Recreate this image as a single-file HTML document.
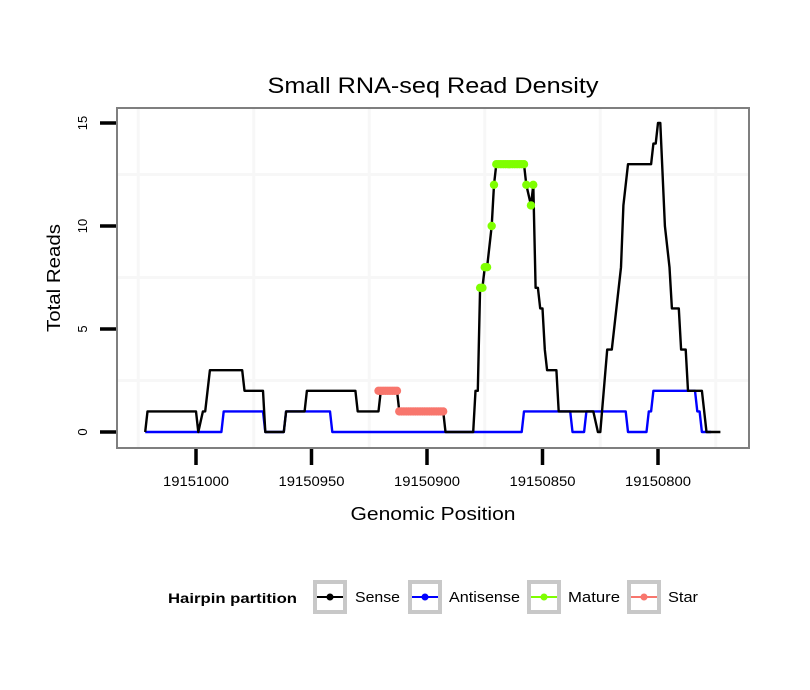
<!DOCTYPE html>
<html><head><meta charset="utf-8"><style>
body{margin:0;background:#fff;}
svg{display:block;font-family:"Liberation Sans","DejaVu Sans",sans-serif;}
</style></head><body>
<svg id="chart" width="810" height="690">
<text x="433" y="93" font-size="22" text-anchor="middle" textLength="331" lengthAdjust="spacingAndGlyphs">Small RNA-seq Read Density</text>
<rect x="117" y="108" width="632" height="340" fill="#fff"/>
<g id="grid"></g>
<g id="series"></g>
<rect x="117" y="108" width="632" height="340" fill="none" stroke="#7f7f7f" stroke-width="2"/>
<g id="axes"></g>
<text x="433" y="520" font-size="18" text-anchor="middle" textLength="165" lengthAdjust="spacingAndGlyphs">Genomic Position</text>
<text x="0" y="0" font-size="18" text-anchor="middle" textLength="108" lengthAdjust="spacingAndGlyphs" transform="translate(60,278) rotate(-90)">Total Reads</text>
<g id="legend">
<text x="168" y="603" font-size="14" font-weight="bold" textLength="129" lengthAdjust="spacingAndGlyphs">Hairpin partition</text>
</g>
</svg>
<script>
const xTicks=[19151000,19150950,19150900,19150850,19150800];
const xTickLabels=["19151000","19150950","19150900","19150850","19150800"];
const yTicks=[0,5,10,15];
const yTickLabels=["0","5","10","15"];
const sensePos=[19151022,19151021,19151000,19150999,19150997,19150996,19150994,19150980,19150979,19150971,19150970,19150962,19150961,19150953,19150952,19150931,19150930,19150921,19150920,19150913,19150912,19150893,19150892,19150880,19150879,19150878,19150877,19150876,19150875,19150874,19150872,19150871,19150870,19150858,19150857,19150855,19150854,19150853,19150852,19150851,19150850,19150849,19150848,19150844,19150843,19150828,19150826,19150825,19150822,19150820,19150816,19150815,19150813,19150803,19150802,19150801,19150800,19150799,19150797,19150795,19150794,19150791,19150790,19150788,19150787,19150781,19150779,19150773];
const senseVal=[0,1,1,0,1,1,3,3,2,2,0,0,1,1,2,2,1,1,2,2,1,1,0,0,2,2,7,7,8,8,10,12,13,13,12,11,12,7,7,6,6,4,3,3,1,1,0,0,4,4,8,11,13,13,14,14,15,15,10,8,6,6,4,4,2,2,0,0];
const antiPos=[19151022,19150989,19150988,19150971,19150970,19150962,19150961,19150942,19150941,19150859,19150858,19150838,19150837,19150832,19150831,19150814,19150813,19150805,19150804,19150803,19150802,19150784,19150783,19150782,19150781,19150777];
const antiVal=[0,0,1,1,0,0,1,1,0,0,1,1,0,0,1,1,0,0,1,1,2,2,1,1,0,0];
const maturePos=[19150877,19150876,19150875,19150874,19150872,19150871,19150870,19150869,19150868,19150867,19150866,19150865,19150864,19150863,19150862,19150861,19150860,19150859,19150858,19150857,19150855,19150854];
const matureVal=[7,7,8,8,10,12,13,13,13,13,13,13,13,13,13,13,13,13,13,12,11,12];
const starPos=[19150921,19150920,19150919,19150918,19150917,19150916,19150915,19150914,19150913,19150912,19150911,19150910,19150909,19150908,19150907,19150906,19150905,19150904,19150903,19150902,19150901,19150900,19150899,19150898,19150897,19150896,19150895,19150894,19150893];
const starVal=[2,2,2,2,2,2,2,2,2,1,1,1,1,1,1,1,1,1,1,1,1,1,1,1,1,1,1,1,1];

const NS="http://www.w3.org/2000/svg";
function xs(p){return 196+(19151000-p)*2.31;}
function ys(v){return 432-v*20.6;}
function mk(tag,attrs,parent){const e=document.createElementNS(NS,tag);for(const k in attrs)e.setAttribute(k,attrs[k]);parent.appendChild(e);return e;}
const grid=document.getElementById('grid'),series=document.getElementById('series'),axes=document.getElementById('axes'),legend=document.getElementById('legend');
for(let i=0;i<=xTicks.length;i++){
  const p=xTicks[0]+25-50*i;
  const l=mk('line',{x1:xs(p),x2:xs(p),y1:109,y2:447,stroke:'#f7f7f7','stroke-width':3},grid);
  
  
}
for(let i=0;i<yTicks.length-1;i++){
  const v=yTicks[i]+2.5;
  const l=mk('line',{x1:118,x2:748,y1:ys(v),y2:ys(v),stroke:'#f7f7f7','stroke-width':3},grid);
  
  
}
function line(P,V,color,name){
  const d=P.map((p,i)=>(i?'L':'M')+xs(p).toFixed(1)+','+ys(V[i]).toFixed(1)).join('');
  const e=mk('path',{d:d,fill:'none',stroke:color,'stroke-width':2.4,'stroke-linejoin':'round'},series);
  
  
}
function dots(P,V,color,name){
  P.forEach((p,i)=>{
    const c=mk('circle',{cx:xs(p),cy:ys(V[i]),r:4.2,fill:color},series);
    
    
  });
}
line(antiPos,antiVal,'#0000ff','antisense-line');
line(sensePos,senseVal,'#000000','sense-line');
dots(starPos,starVal,'#f8766d','star-point');
dots(maturePos,matureVal,'#7fff00','mature-point');
xTicks.forEach((t,i)=>{
  const l=mk('line',{x1:xs(t),x2:xs(t),y1:449,y2:465,stroke:'#000','stroke-width':3.5},axes);
  
  
  const tx=mk('text',{x:xs(t),y:486,'font-size':14,'text-anchor':'middle',textLength:66,lengthAdjust:'spacingAndGlyphs'},axes);
  tx.textContent=xTickLabels[i];
  
  
});
yTicks.forEach((t,i)=>{
  const l=mk('line',{x1:100,x2:116,y1:ys(t),y2:ys(t),stroke:'#000','stroke-width':3.5},axes);
  
  
  const tx=mk('text',{x:0,y:0,'font-size':13,'text-anchor':'middle',transform:'translate(87,'+ys(t)+') rotate(-90)'},axes);
  tx.textContent=yTickLabels[i];
  
  
});
const legItems=[["Sense","#000000",313,355,45],["Antisense","#0000ff",408,449,71],["Mature","#7fff00",527,568,52],["Star","#f8766d",627,668,30]];
legItems.forEach(it=>{
  const g=mk('g',{},legend);
  
  
  mk('rect',{x:it[2]+2,y:582,width:30,height:30,fill:'#fff',stroke:'#c8c8c8','stroke-width':4},g);
  mk('line',{x1:it[2]+4,x2:it[2]+30,y1:597,y2:597,stroke:it[1],'stroke-width':2},g);
  mk('circle',{cx:it[2]+17,cy:597,r:3.5,fill:it[1]},g);
  const tx=mk('text',{x:it[3],y:602,'font-size':15,textLength:it[4],lengthAdjust:'spacingAndGlyphs'},g);
  tx.textContent=it[0];
});
</script>
</body></html>
